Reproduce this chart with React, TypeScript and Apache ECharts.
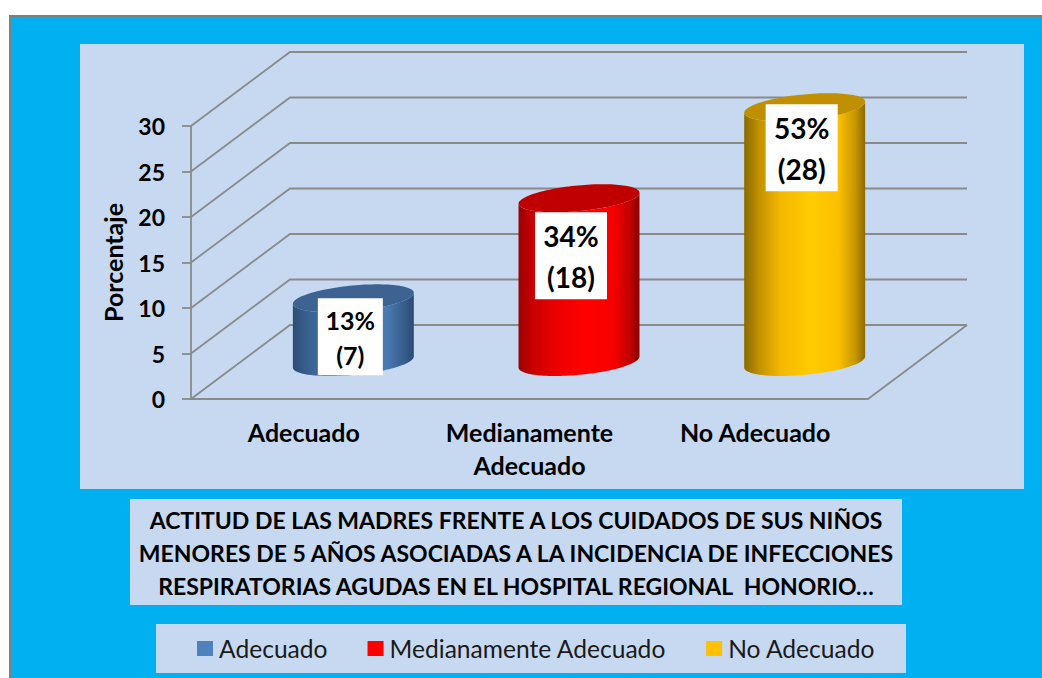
import React, { useEffect, useRef } from "react";
import * as echarts from "echarts";

const categories = ["Adecuado", "Medianamente Adecuado", "No Adecuado"];
const counts = [7, 18, 28];
const percents = ["13%", "34%", "53%"];
const yTicks = [0, 5, 10, 15, 20, 25, 30];
const titleLines = [
  "ACTITUD DE LAS MADRES FRENTE A LOS CUIDADOS DE SUS NIÑOS",
  "MENORES DE 5 AÑOS ASOCIADAS A LA INCIDENCIA DE INFECCIONES",
  "RESPIRATORIAS AGUDAS EN EL HOSPITAL REGIONAL  HONORIO…",
];
const axisName = "Porcentaje";

const FONT = "Lato";
const GRID = "#8a8a8a";
const DEPTH_X = 99;
const DEPTH_Y = 74;

const palettes = [
  {
    legend: "#4f81bd",
    top: "#3c6391",
    stops: [[0, "#2c4d75"], [0.12, "#38608f"], [0.3, "#4672a8"], [0.6, "#4f81bd"], [0.78, "#4a79b2"], [0.92, "#375d8b"], [1, "#2b4b72"]],
  },
  {
    legend: "#ff0000",
    top: "#c00000",
    stops: [[0, "#9a0000"], [0.12, "#cc0000"], [0.35, "#f00000"], [0.55, "#ff0000"], [0.78, "#f80000"], [0.92, "#c00000"], [1, "#880000"]],
  },
  {
    legend: "#ffc000",
    top: "#c09000",
    stops: [[0, "#8a6a00"], [0.12, "#c09000"], [0.3, "#f5b800"], [0.55, "#ffcc00"], [0.78, "#fcc000"], [0.92, "#c69600"], [1, "#8a6a00"]],
  },
];

const labelBoxes = [
  { dx: -3, dy: 0, w: 65, h: 77, size: 25, line: 35 },
  { dx: -8, dy: 14, w: 72, h: 87, size: 28, line: 41 },
  { dx: -3, dy: -3, w: 72, h: 87, size: 28, line: 41 },
];

const ELL_A = 55.6;
const ELL_B = 23.8;
const ELL_H = 14;
const T0 = Math.atan2(ELL_B, ELL_A);

function ellipsePoint(cx: number, cy: number, t: number) {
  return [cx + ELL_A * Math.cos(t) + ELL_B * Math.sin(t), cy - ELL_H * Math.sin(t)];
}

function renderCylinder(index: number) {
  return (_params: any, api: any) => {
    const cat = api.value(0);
    const val = api.value(1);
    const top = api.coord([cat, val]);
    const base = api.coord([cat, 0]);
    const cx = top[0] + DEPTH_X / 2;
    const topY = top[1] - DEPTH_Y / 2;
    const baseY = base[1] - DEPTH_Y / 2;
    const N = 60;
    const body: number[][] = [];
    for (let i = 0; i <= N; i++) body.push(ellipsePoint(cx, baseY, T0 - (Math.PI * i) / N));
    for (let i = N; i >= 0; i--) body.push(ellipsePoint(cx, topY, T0 - (Math.PI * i) / N));
    const cap: number[][] = [];
    for (let i = 0; i < N * 2; i++) cap.push(ellipsePoint(cx, topY, (Math.PI * i) / N));
    const pal = palettes[index];
    const box = labelBoxes[index];
    const boxX = cx + box.dx - box.w / 2;
    const boxY = topY + box.dy;
    return {
      type: "group",
      children: [
        {
          type: "polygon",
          shape: { points: body },
          style: {
            fill: new echarts.graphic.LinearGradient(
              0, 0, 1, 0,
              pal.stops.map(([offset, color]) => ({ offset: offset as number, color: color as string }))
            ),
          },
        },
        { type: "polygon", shape: { points: cap }, style: { fill: pal.top } },
        { type: "rect", shape: { x: boxX, y: boxY, width: box.w, height: box.h }, style: { fill: "#ffffff" } },
        {
          type: "text",
          style: {
            x: boxX + box.w / 2,
            y: boxY + box.h / 2 - box.line / 2 + 1,
            text: percents[index],
            fill: "#000000",
            font: `bold ${box.size}px ${FONT}`,
            align: "center",
            verticalAlign: "middle",
          },
        },
        {
          type: "text",
          style: {
            x: boxX + box.w / 2,
            y: boxY + box.h / 2 + box.line / 2 + 1,
            text: `(${val})`,
            fill: "#000000",
            font: `bold ${box.size}px ${FONT}`,
            align: "center",
            verticalAlign: "middle",
          },
        },
      ],
    };
  };
}

function renderWall(params: any, api: any) {
  const v = api.value(1);
  const front = api.coord([0, v]);
  const size = api.size([1, 0]);
  const left = front[0] - size[0] / 2;
  const right = left + size[0] * 3;
  const style = { stroke: GRID, lineWidth: 1.8, fill: "none" };
  const children: any[] = [
    {
      type: "polyline",
      shape: {
        points: [
          [left, front[1]],
          [left + DEPTH_X, front[1] - DEPTH_Y],
          [right + DEPTH_X, front[1] - DEPTH_Y],
        ],
      },
      style,
    },
  ];
  if (v === 0) {
    children.push({
      type: "line",
      shape: { x1: right + DEPTH_X, y1: front[1] - DEPTH_Y, x2: right, y2: front[1] },
      style,
    });
  }
  return { type: "group", children };
}

export default function App() {
  const ref = useRef<HTMLDivElement>(null);
  useEffect(() => {
    const chart = echarts.init(ref.current!, null, { renderer: "svg" });
    chart.setOption({
      animation: false,
      backgroundColor: "#ffffff",
      textStyle: { fontFamily: FONT },
      graphic: [
        { type: "rect", z: -10, shape: { x: 10, y: 16, width: 1042, height: 672 }, style: { fill: "#00b0f0", stroke: "#7f7f7f", lineWidth: 2 } },
        { type: "rect", z: -9, shape: { x: 80, y: 44, width: 944, height: 445 }, style: { fill: "#c6d9f1" } },
        { type: "rect", z: -9, shape: { x: 130, y: 499, width: 772, height: 106 }, style: { fill: "#c6d9f1" } },
        { type: "rect", z: -9, shape: { x: 156, y: 624, width: 750, height: 49 }, style: { fill: "#c6d9f1" } },
      ],
      title: {
        text: titleLines.join("\n"),
        left: 511,
        top: 498,
        textAlign: "center",
        textStyle: { fontFamily: FONT, fontWeight: "bold", fontSize: 23, lineHeight: 33, color: "#000000" },
      },
      legend: {
        left: 197,
        top: 636,
        padding: 0,
        itemWidth: 16,
        itemHeight: 15,
        itemGap: 40,
        icon: "rect",
        data: categories,
        selectedMode: false,
        textStyle: { fontFamily: FONT, fontSize: 24.6, color: "#1a1a1a", padding: [0, 0, 0, 1] },
      },
      grid: { left: 191, top: 126, width: 677, height: 273 },
      xAxis: {
        type: "category",
        data: categories,
        axisLine: { show: true, onZero: false, lineStyle: { color: GRID, width: 1.8 } },
        axisTick: { show: false },
        axisLabel: {
          margin: 16,
          color: "#000000",
          fontFamily: FONT,
          fontWeight: "bold",
          fontSize: 25,
          lineHeight: 33,
          interval: 0,
          formatter: (v: string) => v.replace("Medianamente ", "Medianamente\n"),
        },
      },
      yAxis: {
        type: "value",
        min: 0,
        max: 30,
        interval: 5,
        name: axisName,
        nameLocation: "middle",
        nameGap: 66,
        nameTextStyle: { fontFamily: FONT, fontWeight: "bold", fontSize: 25, color: "#000000" },
        splitLine: { show: false },
        axisLine: { show: true, lineStyle: { color: GRID, width: 1.8 } },
        axisTick: { show: true, length: 9, lineStyle: { color: GRID, width: 1.8 } },
        axisLabel: { margin: 26, color: "#000000", fontFamily: FONT, fontWeight: "bold", fontSize: 23, padding: [2, 0, 0, 0] },
      },
      series: [
        {
          type: "custom",
          name: "walls",
          silent: true,
          z: 1,
          clip: false,
          encode: { x: 0, y: 1 },
          data: yTicks.map((v) => [0, v]),
          renderItem: renderWall,
        },
        ...categories.map((name, i) => ({
          type: "custom",
          name,
          silent: true,
          z: 3,
          clip: false,
          itemStyle: { color: palettes[i].legend },
          encode: { x: 0, y: 1 },
          data: [[i, counts[i]]],
          renderItem: renderCylinder(i),
        })),
      ],
    });
    return () => chart.dispose();
  }, []);
  return <div ref={ref} style={{ position: "absolute", left: 0, top: 0, width: 1042, height: 678 }} />;
}
